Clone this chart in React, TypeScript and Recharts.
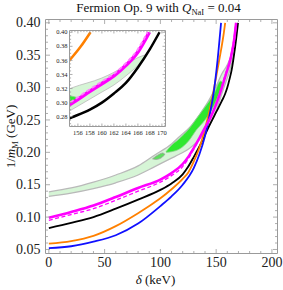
import React from 'react';
import { Area, ComposedChart, Line, XAxis, YAxis } from 'recharts';

// curves: delta (keV) against 1/m_M (GeV)
const blueDelta = [0, 20, 40, 60, 80, 100, 110, 120, 130, 135, 140, 145, 148, 151, 154.4];
const blueInv = [0.052, 0.055, 0.062, 0.072, 0.09, 0.117, 0.132, 0.15, 0.176, 0.197, 0.225, 0.265, 0.295, 0.338, 0.4];

const orangeDelta = [0, 20, 40, 60, 80, 90, 100, 110, 120, 125, 130, 135, 140, 145, 148, 151, 154.6, 156.5, 158.1];
const orangeInv = [0.059, 0.063, 0.071, 0.086, 0.106, 0.117, 0.129, 0.143, 0.159, 0.169, 0.186, 0.207, 0.236, 0.272, 0.298, 0.326, 0.36, 0.38, 0.4];

const blackDelta = [0, 20, 40, 60, 80, 100, 110, 120, 125, 130, 135, 140, 145, 150, 155, 158, 160, 162, 164, 166, 168, 169.6];
const blackInv = [0.083, 0.091, 0.1, 0.113, 0.127, 0.142, 0.152, 0.166, 0.178, 0.193, 0.209, 0.227, 0.245, 0.262, 0.279, 0.29, 0.3, 0.313, 0.328, 0.35, 0.376, 0.4];

const magentaDelta = [0, 20, 40, 60, 80, 100, 110, 120, 125, 130, 135, 140, 145, 150, 155, 158, 160, 162, 164, 166, 167.9];
const magentaInv = [0.099, 0.108, 0.118, 0.131, 0.145, 0.158, 0.168, 0.182, 0.193, 0.207, 0.222, 0.238, 0.254, 0.274, 0.299, 0.316, 0.327, 0.338, 0.353, 0.372, 0.4];

const dashedDelta = [0, 20, 40, 60, 80, 100, 110, 120, 125, 130, 135, 140, 145, 150, 155, 158, 160, 162, 164, 166, 167.6];
const dashedInv = [0.095, 0.104, 0.113, 0.126, 0.14, 0.154, 0.164, 0.178, 0.19, 0.205, 0.221, 0.238, 0.255, 0.276, 0.302, 0.319, 0.33, 0.341, 0.356, 0.376, 0.4];

// light green allowed region
const bandDelta = [0, 20, 40, 60, 80, 95, 110, 117, 126, 135, 145, 150, 155, 160, 162, 164, 166, 167.3];
const bandLow = [0.132, 0.137, 0.144, 0.153, 0.165, 0.178, 0.191, 0.197, 0.206, 0.22, 0.245, 0.264, 0.29, 0.315, 0.325, 0.338, 0.353, 0.367];
const bandHigh = [0.139, 0.145, 0.154, 0.165, 0.179, 0.196, 0.213, 0.224, 0.238, 0.258, 0.285, 0.302, 0.321, 0.335, 0.343, 0.353, 0.364, 0.368];

// bright green regions
const brightDelta = [105, 110, 117, 126, 132, 140, 148, 154, 156];
const brightLow = [0.2, 0.201, 0.205, 0.219, 0.234, 0.25, 0.272, 0.296, 0.303];
const brightHigh = [0.201, 0.211, 0.221, 0.237, 0.251, 0.27, 0.29, 0.31, 0.307];

const lensDelta = [93, 96, 99, 102, 104];
const lensLow = [0.19, 0.189, 0.19, 0.193, 0.197];
const lensHigh = [0.19, 0.194, 0.197, 0.199, 0.197];

const xMajor = [0, 50, 100, 150, 200];
const yMajor = [0.05, 0.1, 0.15, 0.2, 0.25, 0.3, 0.35, 0.4];
const insetXMajor = [156, 158, 160, 162, 164, 166, 168, 170];
const insetYMajor = [0.28, 0.3, 0.32, 0.34, 0.36, 0.38, 0.4];

const FONT = '"Liberation Serif", "Times New Roman", serif';
const FRAME_COLOR = '#9a9a9a';

type Frame = { left: number; right: number; top: number; bottom: number };
const MAIN: Frame = { left: 45.5, right: 277.5, top: 19.5, bottom: 253.5 };
const INSET: Frame = { left: 69.5, right: 165.5, top: 30.5, bottom: 126.5 };

const steps = (from: number, to: number, step: number) => {
  const out: number[] = [];
  for (let i = 0; from + i * step <= to + 1e-9; i++) out.push(+(from + i * step).toFixed(4));
  return out;
};

const pts = (xs: number[], ys: number[]) => xs.map((d, i) => ({ d, v: ys[i] }));
const rng = (xs: number[], lo: number[], hi: number[]) => xs.map((d, i) => ({ d, r: [lo[i], hi[i]] }));

type Side = 'bottom' | 'top' | 'left' | 'right';
type TickOpts = {
  frame: Frame;
  side: Side;
  major: number[];
  len: number;
  minorLen: number;
  label?: { size: number; at: number; digits: number };
};

const makeTick = (o: TickOpts) => (props: any) => {
  const v = props.payload.value as number;
  const isMajor = o.major.some((m) => Math.abs(m - v) < 1e-6);
  const len = isMajor ? o.len : o.minorLen;
  const f = o.frame;
  let line;
  let text = null;
  if (o.side === 'bottom' || o.side === 'top') {
    const x = props.x;
    const y0 = o.side === 'bottom' ? f.bottom : f.top;
    const y1 = o.side === 'bottom' ? y0 - len : y0 + len;
    line = <line x1={x} x2={x} y1={y0} y2={y1} stroke={FRAME_COLOR} strokeWidth={0.8} />;
    if (o.label && isMajor)
      text = (
        <text x={x} y={o.label.at} textAnchor="middle" fontFamily={FONT} fontSize={o.label.size} fill="#222">
          {v.toFixed(o.label.digits)}
        </text>
      );
  } else {
    const y = props.y;
    const x0 = o.side === 'left' ? f.left : f.right;
    const x1 = o.side === 'left' ? x0 + len : x0 - len;
    line = <line x1={x0} x2={x1} y1={y} y2={y} stroke={FRAME_COLOR} strokeWidth={0.8} />;
    if (o.label && isMajor)
      text = (
        <text x={o.label.at} y={y + o.label.size * 0.33} textAnchor="end" fontFamily={FONT} fontSize={o.label.size} fill="#222">
          {v.toFixed(o.label.digits)}
        </text>
      );
  }
  return (
    <g>
      {line}
      {text}
    </g>
  );
};

// axes are 1px thick, so the margins leave 1px for them on every side
const marginFor = (f: Frame) => ({ top: f.top - 1, left: f.left - 1, right: 283 - f.right - 1, bottom: 290 - f.bottom - 1 });

function renderSeries(inset: boolean) {
  const w = inset ? 1.4 : 1;
  return [
    <Area key="band" data={rng(bandDelta, bandLow, bandHigh)} dataKey="r" type="monotone" fill="#d6f5d6" fillOpacity={1} stroke="#b9b9b9" strokeWidth={inset ? 0.8 : 1.3} isAnimationActive={false} dot={false} activeDot={false} />,
    <Area key="lens" data={rng(lensDelta, lensLow, lensHigh)} dataKey="r" type="monotone" fill="#5fdc5f" fillOpacity={1} stroke="#a0a0a0" strokeWidth={0.8} isAnimationActive={false} dot={false} activeDot={false} />,
    <Area key="bright" data={rng(brightDelta, brightLow, brightHigh)} dataKey="r" type="monotone" fill="#2ee82e" fillOpacity={1} stroke="#8fcf8f" strokeWidth={0.8} isAnimationActive={false} dot={false} activeDot={false} />,
    <Line key="black" data={pts(blackDelta, blackInv)} dataKey="v" type="monotone" stroke="#000" strokeWidth={1.8 * w} dot={false} activeDot={false} isAnimationActive={false} />,
    <Line key="orange" data={pts(orangeDelta, orangeInv)} dataKey="v" type="monotone" stroke="#ff8000" strokeWidth={1.8 * w} dot={false} activeDot={false} isAnimationActive={false} />,
    <Line key="blue" data={pts(blueDelta, blueInv)} dataKey="v" type="monotone" stroke="#1010ff" strokeWidth={1.8 * w} dot={false} activeDot={false} isAnimationActive={false} />,
    <Line key="magenta" data={pts(magentaDelta, magentaInv)} dataKey="v" type="monotone" stroke="#ff00ff" strokeWidth={2.6 * w} dot={false} activeDot={false} isAnimationActive={false} />,
    <Line key="dashed" data={pts(dashedDelta, dashedInv)} dataKey="v" type="monotone" stroke={inset ? '#ff80ff' : '#ff00ff'} strokeWidth={1.3 * w} strokeDasharray="4 2.5" dot={false} activeDot={false} isAnimationActive={false} />,
  ];
}

export default function App() {
  const mainX: [number, number] = [-3, 205];
  const mainY: [number, number] = [0.0438, 0.4051];
  const insX: [number, number] = [154.6, 170.6];
  const insY: [number, number] = [0.266, 0.4025];
  const abs: React.CSSProperties = { position: 'absolute', left: 0, top: 0 };

  return (
    <div style={{ position: 'absolute', left: 0, top: 0, width: 283, height: 290, background: '#fff' }}>
      <div style={abs}>
        <ComposedChart width={283} height={290} margin={marginFor(MAIN)}>
          <XAxis type="number" dataKey="d" domain={mainX} allowDataOverflow height={1} ticks={steps(0, 200, 10)} interval={0}
            axisLine={{ stroke: FRAME_COLOR }} tickLine={false}
            tick={makeTick({ frame: MAIN, side: 'bottom', major: xMajor, len: 4.5, minorLen: 2.5, label: { size: 14, at: 267, digits: 0 } })} />
          <XAxis xAxisId="top" orientation="top" type="number" dataKey="d" domain={mainX} allowDataOverflow height={1} ticks={steps(0, 200, 10)} interval={0}
            axisLine={{ stroke: FRAME_COLOR }} tickLine={false}
            tick={makeTick({ frame: MAIN, side: 'top', major: xMajor, len: 4.5, minorLen: 2.5 })} />
          <YAxis type="number" domain={mainY} allowDataOverflow width={1} ticks={steps(0.05, 0.4, 0.01)} interval={0}
            axisLine={{ stroke: FRAME_COLOR }} tickLine={false}
            tick={makeTick({ frame: MAIN, side: 'left', major: yMajor, len: 4.5, minorLen: 2.5, label: { size: 14, at: 40.5, digits: 2 } })} />
          <YAxis yAxisId="right" orientation="right" type="number" domain={mainY} allowDataOverflow width={1} ticks={steps(0.05, 0.4, 0.01)} interval={0}
            axisLine={{ stroke: FRAME_COLOR }} tickLine={false}
            tick={makeTick({ frame: MAIN, side: 'right', major: yMajor, len: 4.5, minorLen: 2.5 })} />
          {renderSeries(false)}
        </ComposedChart>
      </div>

      <div style={{ position: 'absolute', left: INSET.left, top: INSET.top, width: INSET.right - INSET.left, height: INSET.bottom - INSET.top, background: '#fff' }} />

      <div style={abs}>
        <ComposedChart width={283} height={290} margin={marginFor(INSET)}>
          <XAxis type="number" dataKey="d" domain={insX} allowDataOverflow height={1} ticks={steps(155, 170.5, 0.5)} interval={0}
            axisLine={{ stroke: FRAME_COLOR }} tickLine={false}
            tick={makeTick({ frame: INSET, side: 'bottom', major: insetXMajor, len: 3, minorLen: 1.6, label: { size: 6.5, at: 134.5, digits: 0 } })} />
          <XAxis xAxisId="top" orientation="top" type="number" dataKey="d" domain={insX} allowDataOverflow height={1} ticks={steps(155, 170.5, 0.5)} interval={0}
            axisLine={{ stroke: FRAME_COLOR }} tickLine={false}
            tick={makeTick({ frame: INSET, side: 'top', major: insetXMajor, len: 3, minorLen: 1.6 })} />
          <YAxis type="number" domain={insY} allowDataOverflow width={1} ticks={steps(0.27, 0.4, 0.005)} interval={0}
            axisLine={{ stroke: FRAME_COLOR }} tickLine={false}
            tick={makeTick({ frame: INSET, side: 'left', major: insetYMajor, len: 3, minorLen: 1.6, label: { size: 6.5, at: 67.5, digits: 2 } })} />
          <YAxis yAxisId="right" orientation="right" type="number" domain={insY} allowDataOverflow width={1} ticks={steps(0.27, 0.4, 0.005)} interval={0}
            axisLine={{ stroke: FRAME_COLOR }} tickLine={false}
            tick={makeTick({ frame: INSET, side: 'right', major: insetYMajor, len: 3, minorLen: 1.6 })} />
          {renderSeries(true)}
        </ComposedChart>
      </div>

      <svg width={283} height={290} style={{ ...abs, pointerEvents: 'none' }}>
        <text x={158.5} y={12} textAnchor="middle" fontFamily={FONT} fontSize={13} fill="#111">
          Fermion Op. 9 with <tspan fontStyle="italic">Q</tspan>
          <tspan fontSize={8.5} dy={2.5}>NaI</tspan>
          <tspan dy={-2.5}> = 0.04</tspan>
        </text>
        <text x={155.5} y={284} textAnchor="middle" fontFamily={FONT} fontSize={13} fill="#111">
          <tspan fontStyle="italic">δ</tspan> (keV)
        </text>
        <text transform="translate(15,136.5) rotate(-90)" textAnchor="middle" fontFamily={FONT} fontSize={13} fill="#111">
          1/<tspan fontStyle="italic">m</tspan>
          <tspan fontSize={8.5} dy={2.5}>M</tspan>
          <tspan dy={-2.5}> (GeV)</tspan>
        </text>
      </svg>
    </div>
  );
}
